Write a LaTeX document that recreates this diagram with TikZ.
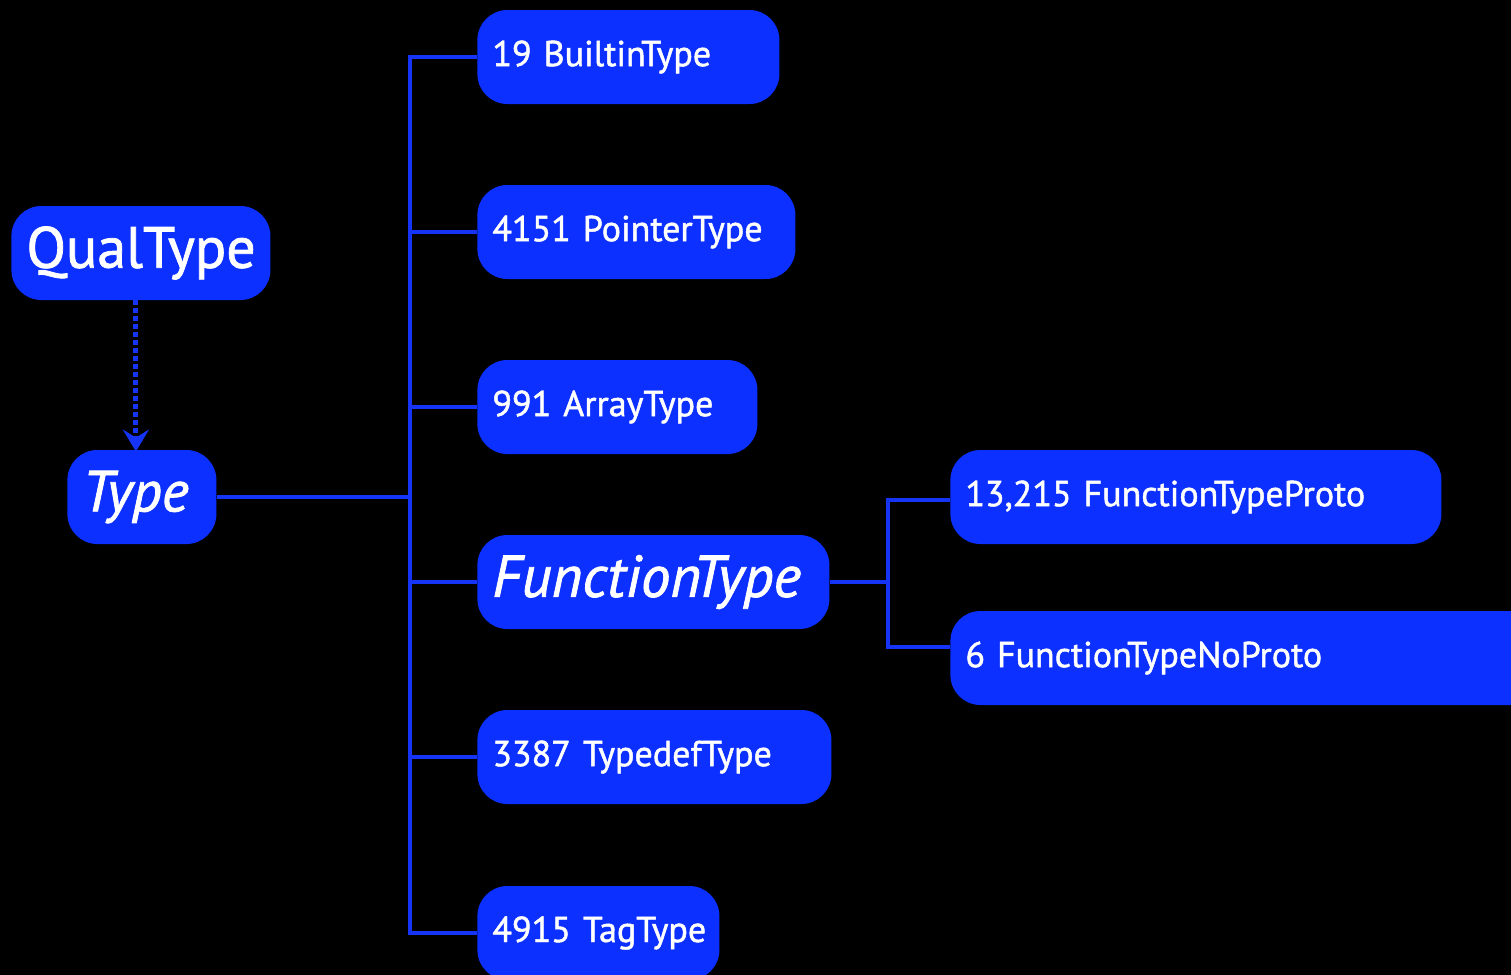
\documentclass[tikz,border=0pt]{standalone}
\usepackage{fontspec}
\setmainfont{PT Sans}[
  WordSpace=0.8,
  BoldFont={PT Sans}, BoldFeatures={FakeBold=1.3},
  BoldItalicFont={PT Sans Italic}, BoldItalicFeatures={FakeBold=1.3}]
\usepackage{xcolor}
\usetikzlibrary{arrows.meta, positioning}
\definecolor{nodeblue}{RGB}{12,48,255}
\definecolor{lineblue}{RGB}{22,52,245}
\hyphenpenalty=10000

\tikzset{
  typebox/.style={fill=nodeblue, text=white, rounded corners=15pt, anchor=west,
    minimum height=47pt, inner xsep=7.5pt, inner ysep=0pt, align=left,
    font=\fontsize{18}{21}\selectfont\bfseries},
  bigbox/.style={typebox, font=\fontsize{29}{33}\selectfont\bfseries},
  link/.style={draw=lineblue, line width=2pt},
}

\begin{document}
\begin{tikzpicture}[x=0.5pt, y=-0.5pt]
        % background, also fixes the page size
        \fill[black] (0,0) rectangle (1511,975);
        \useasboundingbox (0,0) rectangle (1511,975);

        % root and base type
        \node[bigbox, text width=114.5pt] (qual) at (11,253) {QualType};
        \node[bigbox, text width=59.5pt, font=\fontsize{29}{33}\selectfont\bfseries\itshape] (type) at (67,497) {Type};
        \draw[lineblue, line width=2.5pt, dash pattern=on 2.5pt off 1.5pt, -{Stealth[length=11pt,width=13pt,inset=4pt]}]
            ([xshift=-2.5pt]qual.south) -- ([xshift=-3pt,yshift=-1pt]type.north);

        % subtypes of Type
        \node[typebox, text width=136pt] (builtin) at (477,57) {19~BuiltinType};
        \node[typebox, text width=144pt] (pointer) at (477,232) {4151~PointerType};
        \node[typebox, text width=125pt] (array) at (477,407) {991~ArrayType};
        \node[bigbox, text width=161pt, font=\fontsize{29.5}{33}\selectfont\bfseries\itshape] (functype) at (477,582) {FunctionType};
        \node[typebox, text width=162pt] (typedef) at (477,757) {3387~TypedefType};
        \node[typebox, text width=106pt] (tag) at (477,933) {4915~TagType};

        % subtypes of FunctionType
        \node[typebox, text width=230.5pt] (proto) at (950,497) {13,215~FunctionTypeProto};
        \node[typebox, text width=285pt] (noproto) at (950,658) {6~FunctionTypeNoProto};

        % tree lines
        \coordinate (trunk) at (410,0);
        \coordinate (fork) at (888,0);
        \draw[link] (type.east) -- (type.east -| trunk);
        \draw[link] (builtin.west) -- (builtin.west -| trunk) -- (tag.west -| trunk) -- (tag.west);
        \draw[link] (pointer.west) -- (pointer.west -| trunk);
        \draw[link] (array.west) -- (array.west -| trunk);
        \draw[link] (functype.west) -- (functype.west -| trunk);
        \draw[link] (typedef.west) -- (typedef.west -| trunk);
        \draw[link] (functype.east) -- (functype.east -| fork);
        \draw[link] ([yshift=-1.5pt]proto.west) -- ([yshift=-1.5pt]proto.west -| fork)
            -- ([yshift=5.5pt]noproto.west -| fork) -- ([yshift=5.5pt]noproto.west);
    \end{tikzpicture}
\end{document}
